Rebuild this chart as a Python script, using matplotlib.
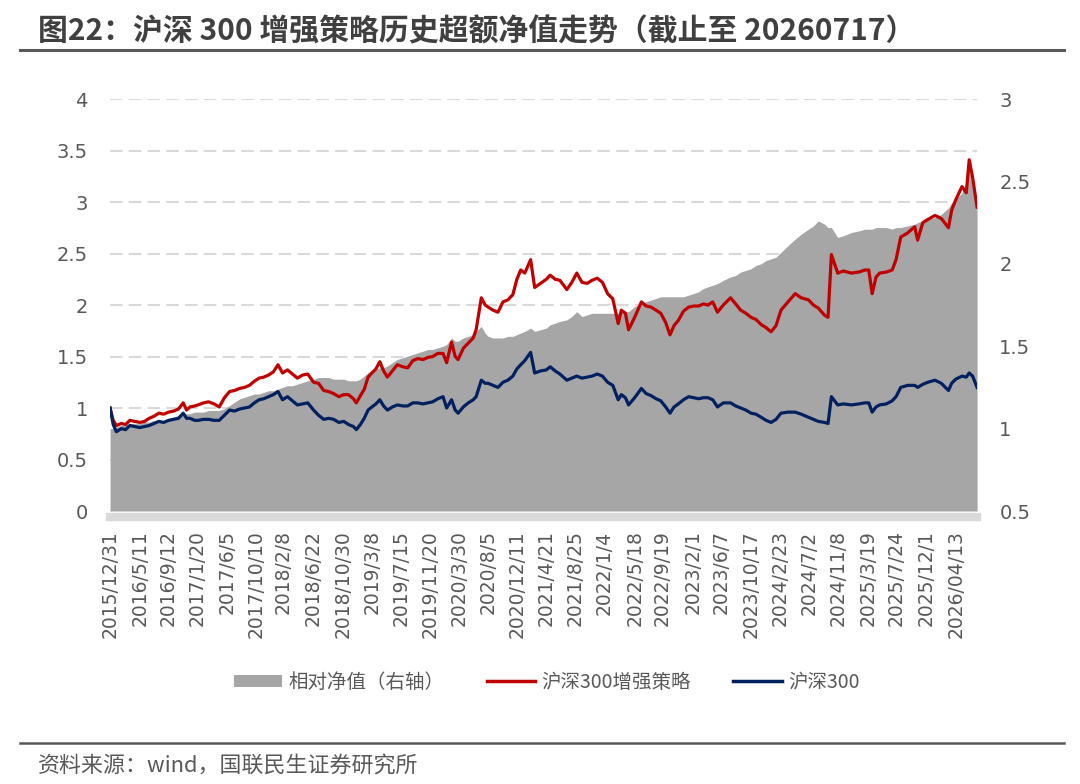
import pandas as pd
import matplotlib
matplotlib.use("Agg")
import matplotlib.pyplot as plt
from matplotlib.lines import Line2D
from matplotlib.patches import Patch

# Values
dates = [
    "2015-12-31", "2016-01-14", "2016-01-28", "2016-02-19", "2016-03-09", "2016-03-28",
    "2016-04-20", "2016-05-11", "2016-06-01", "2016-06-22", "2016-07-13", "2016-08-04",
    "2016-08-25", "2016-09-16", "2016-10-08", "2016-10-30", "2016-11-20", "2016-12-05",
    "2016-12-20", "2017-01-10", "2017-01-25", "2017-02-18", "2017-03-13", "2017-04-06",
    "2017-04-29", "2017-05-22", "2017-06-14", "2017-07-06", "2017-07-28", "2017-08-19",
    "2017-09-10", "2017-10-02", "2017-10-23", "2017-11-13", "2017-12-04", "2017-12-25",
    "2018-01-15", "2018-02-04", "2018-02-26", "2018-03-20", "2018-04-11", "2018-05-04",
    "2018-05-27", "2018-06-22", "2018-07-14", "2018-08-06", "2018-08-28", "2018-09-19",
    "2018-10-12", "2018-11-03", "2018-11-24", "2018-12-16", "2018-12-29", "2019-01-16",
    "2019-02-02", "2019-02-19", "2019-03-08", "2019-03-26", "2019-04-12", "2019-04-29",
    "2019-05-16", "2019-06-07", "2019-06-29", "2019-07-24", "2019-08-14", "2019-09-06",
    "2019-09-28", "2019-10-21", "2019-11-11", "2019-12-03", "2019-12-26", "2020-01-18",
    "2020-02-03", "2020-02-25", "2020-03-12", "2020-03-25", "2020-04-17", "2020-05-09",
    "2020-05-31", "2020-06-13", "2020-07-06", "2020-07-23", "2020-08-05", "2020-08-27",
    "2020-09-18", "2020-10-10", "2020-11-01", "2020-11-23", "2020-12-11", "2020-12-28",
    "2021-01-15", "2021-02-10", "2021-02-28", "2021-03-26", "2021-04-21", "2021-05-08",
    "2021-05-30", "2021-06-20", "2021-07-21", "2021-08-12", "2021-09-03", "2021-09-26",
    "2021-10-19", "2021-11-10", "2021-12-03", "2021-12-26", "2022-01-18", "2022-02-10",
    "2022-03-06", "2022-03-20", "2022-04-07", "2022-04-21", "2022-05-18", "2022-06-17",
    "2022-07-08", "2022-07-30", "2022-08-21", "2022-09-11", "2022-10-03", "2022-10-22",
    "2022-11-09", "2022-11-28", "2022-12-21", "2023-01-13", "2023-02-05", "2023-02-26",
    "2023-03-19", "2023-04-09", "2023-04-30", "2023-05-21", "2023-06-16", "2023-07-18",
    "2023-08-10", "2023-09-01", "2023-09-24", "2023-10-17", "2023-11-08", "2023-12-01",
    "2023-12-23", "2024-01-14", "2024-02-05", "2024-02-27", "2024-03-29", "2024-04-30",
    "2024-05-27", "2024-06-28", "2024-07-20", "2024-08-11", "2024-09-08", "2024-09-23",
    "2024-10-08", "2024-11-05", "2024-11-30", "2025-01-05", "2025-02-07", "2025-03-06",
    "2025-03-23", "2025-04-07", "2025-04-24", "2025-05-10", "2025-06-09", "2025-07-05",
    "2025-07-22", "2025-08-12", "2025-09-12", "2025-10-13", "2025-10-26", "2025-11-18",
    "2025-12-10", "2026-01-11", "2026-02-08", "2026-03-12", "2026-03-26", "2026-04-13",
    "2026-05-11", "2026-05-30", "2026-06-12", "2026-06-27", "2026-07-17",
]

# 沪深300增强策略 (left axis)
strategy = [
    1.00, 0.88, 0.83, 0.85, 0.84, 0.88, 0.87, 0.86, 0.87, 0.90, 0.92, 0.95,
    0.94, 0.96, 0.97, 0.99, 1.05, 0.98, 1.01, 1.02, 1.03, 1.05, 1.06, 1.04,
    1.01, 1.10, 1.16, 1.17, 1.19, 1.20, 1.22, 1.26, 1.29, 1.30, 1.32, 1.35,
    1.42, 1.34, 1.37, 1.33, 1.29, 1.32, 1.33, 1.25, 1.24, 1.17, 1.16, 1.14,
    1.11, 1.13, 1.13, 1.09, 1.05, 1.12, 1.18, 1.30, 1.34, 1.38, 1.45, 1.36,
    1.30, 1.36, 1.42, 1.40, 1.39, 1.46, 1.48, 1.47, 1.49, 1.50, 1.53, 1.53,
    1.44, 1.64, 1.50, 1.47, 1.58, 1.63, 1.68, 1.76, 2.07, 2.00, 1.98, 1.95,
    1.93, 2.03, 2.05, 2.10, 2.25, 2.34, 2.31, 2.44, 2.17, 2.21, 2.25, 2.29,
    2.25, 2.24, 2.15, 2.22, 2.31, 2.22, 2.21, 2.24, 2.26, 2.22, 2.11, 2.06,
    1.82, 1.95, 1.92, 1.76, 1.88, 2.03, 1.99, 1.98, 1.95, 1.92, 1.83, 1.71,
    1.80, 1.85, 1.94, 1.98, 1.99, 1.99, 2.01, 2.00, 2.03, 1.93, 2.00, 2.07,
    2.01, 1.95, 1.92, 1.88, 1.86, 1.81, 1.78, 1.74, 1.80, 1.95, 2.03, 2.11,
    2.07, 2.05, 2.00, 1.97, 1.90, 1.88, 2.49, 2.31, 2.33, 2.31, 2.32, 2.34,
    2.34, 2.11, 2.27, 2.31, 2.32, 2.34, 2.44, 2.66, 2.70, 2.76, 2.63, 2.80,
    2.83, 2.87, 2.84, 2.75, 2.92, 3.02, 3.15, 3.09, 3.41, 3.24, 2.95,
]

# 沪深300 (left axis)
csi300 = [
    1.00, 0.84, 0.77, 0.80, 0.79, 0.83, 0.82, 0.81, 0.82, 0.83, 0.85, 0.87,
    0.86, 0.88, 0.89, 0.90, 0.95, 0.90, 0.90, 0.88, 0.88, 0.89, 0.89, 0.88,
    0.88, 0.93, 0.98, 0.97, 0.99, 1.00, 1.01, 1.05, 1.08, 1.09, 1.11, 1.13,
    1.16, 1.08, 1.11, 1.07, 1.03, 1.04, 1.05, 0.98, 0.93, 0.89, 0.90, 0.89,
    0.86, 0.87, 0.84, 0.82, 0.79, 0.84, 0.90, 0.98, 1.01, 1.04, 1.08, 1.02,
    0.98, 1.01, 1.03, 1.02, 1.02, 1.05, 1.05, 1.04, 1.05, 1.06, 1.09, 1.11,
    1.00, 1.08, 0.98, 0.95, 1.01, 1.05, 1.08, 1.11, 1.27, 1.24, 1.24, 1.22,
    1.20, 1.25, 1.27, 1.31, 1.38, 1.42, 1.46, 1.54, 1.34, 1.36, 1.37, 1.40,
    1.36, 1.33, 1.27, 1.29, 1.31, 1.29, 1.30, 1.31, 1.33, 1.31, 1.25, 1.22,
    1.08, 1.13, 1.10, 1.03, 1.10, 1.19, 1.14, 1.12, 1.09, 1.07, 1.01, 0.95,
    1.01, 1.04, 1.08, 1.11, 1.10, 1.09, 1.10, 1.10, 1.08, 1.01, 1.05, 1.05,
    1.02, 1.00, 0.98, 0.95, 0.94, 0.91, 0.88, 0.86, 0.89, 0.95, 0.96, 0.96,
    0.94, 0.91, 0.89, 0.87, 0.86, 0.85, 1.11, 1.03, 1.04, 1.03, 1.04, 1.05,
    1.05, 0.96, 1.01, 1.03, 1.04, 1.07, 1.11, 1.20, 1.22, 1.22, 1.20, 1.23,
    1.25, 1.27, 1.24, 1.17, 1.24, 1.28, 1.31, 1.30, 1.34, 1.31, 1.20,
]

# 相对净值 (right axis)
relative = [
    1.00, 1.00, 1.01, 1.02, 1.02, 1.03, 1.03, 1.03, 1.04, 1.04, 1.05, 1.05,
    1.05, 1.06, 1.07, 1.08, 1.09, 1.09, 1.09, 1.10, 1.10, 1.10, 1.11, 1.11,
    1.11, 1.12, 1.14, 1.16, 1.18, 1.19, 1.20, 1.21, 1.21, 1.22, 1.23, 1.23,
    1.24, 1.25, 1.26, 1.26, 1.27, 1.28, 1.29, 1.30, 1.31, 1.31, 1.31, 1.30,
    1.30, 1.30, 1.29, 1.29, 1.29, 1.30, 1.32, 1.34, 1.35, 1.36, 1.37, 1.37,
    1.38, 1.40, 1.42, 1.43, 1.44, 1.45, 1.46, 1.47, 1.48, 1.48, 1.49, 1.50,
    1.51, 1.55, 1.53, 1.53, 1.55, 1.56, 1.57, 1.59, 1.62, 1.58, 1.56, 1.55,
    1.55, 1.55, 1.56, 1.56, 1.57, 1.58, 1.59, 1.61, 1.59, 1.60, 1.61, 1.63,
    1.64, 1.65, 1.66, 1.68, 1.71, 1.68, 1.69, 1.70, 1.70, 1.70, 1.70, 1.70,
    1.70, 1.71, 1.71, 1.71, 1.74, 1.76, 1.77, 1.78, 1.79, 1.80, 1.80, 1.80,
    1.80, 1.80, 1.80, 1.81, 1.82, 1.83, 1.85, 1.86, 1.87, 1.88, 1.90, 1.92,
    1.93, 1.95, 1.96, 1.97, 1.99, 2.00, 2.02, 2.03, 2.04, 2.07, 2.11, 2.15,
    2.18, 2.21, 2.23, 2.26, 2.24, 2.22, 2.22, 2.16, 2.17, 2.19, 2.20, 2.21,
    2.21, 2.21, 2.22, 2.22, 2.22, 2.21, 2.22, 2.22, 2.23, 2.24, 2.25, 2.26,
    2.27, 2.28, 2.30, 2.34, 2.37, 2.39, 2.43, 2.49, 2.57, 2.46, 2.38,
]

tick_labels = [
    "2015/12/31", "2016/5/11", "2016/9/12", "2017/1/20", "2017/6/5", "2017/10/10",
    "2018/2/8", "2018/6/22", "2018/10/30", "2019/3/8", "2019/7/15", "2019/11/20",
    "2020/3/30", "2020/8/5", "2020/12/11", "2021/4/21", "2021/8/25", "2022/1/4",
    "2022/5/18", "2022/9/19", "2023/2/1", "2023/6/7", "2023/10/17", "2024/2/23",
    "2024/7/2", "2024/11/8", "2025/3/19", "2025/7/24", "2025/12/1", "2026/04/13",
]
left_ticks = [0, 0.5, 1, 1.5, 2, 2.5, 3, 3.5, 4]
left_labels = ["0", "0.5", "1", "1.5", "2", "2.5", "3", "3.5", "4"]
right_ticks = [0.5, 1, 1.5, 2, 2.5, 3]
right_labels = ["0.5", "1", "1.5", "2", "2.5", "3"]

title = "图22：沪深 300 增强策略历史超额净值走势（截止至 20260717）"
source = "资料来源：wind，国联民生证券研究所"

plt.rcParams['font.family'] = ['Noto Sans CJK SC', 'DejaVu Sans']

RED = '#C00000'
NAVY = '#002060'
AREA = '#A6A6A6'
GRID = '#D9D9D9'
TXT = '#595959'

x = pd.to_datetime(dates)
xticks = pd.to_datetime(tick_labels, format="%Y/%m/%d")

fig = plt.figure(figsize=(10.8, 7.84), dpi=100)
ax = fig.add_axes([0.1019, 0.3482, 0.8028, 0.5255])
ax_area = ax.twinx()   # right axis, grey area
ax_line = ax.twinx()   # left scale again, lines on top of the area

# right axis: relative net value area
ax_area.fill_between(x, 0.5, relative, color=AREA, linewidth=0)
ax_area.set_ylim(0.5, 3)
ax_area.set_yticks(right_ticks, labels=right_labels)
ax_area.tick_params(axis='y', length=0, pad=16, labelsize=14, labelcolor=TXT,
                    labelfontfamily='DejaVu Sans')

# lines on left scale
ax_line.plot(x, strategy, color=RED, linewidth=2.3)
ax_line.plot(x, csi300, color=NAVY, linewidth=2.3)
ax_line.set_ylim(0, 4)
ax_line.yaxis.set_visible(False)

for a in [ax_area, ax_line]:
    for s in a.spines.values():
        s.set_visible(False)

# left axis: grid + ticks (x limits and ticks set last so twins don't reset them)
ax.set_ylim(0, 4)
ax.set_yticks(left_ticks, labels=left_labels)
ax.yaxis.grid(True, color=GRID, linestyle=(0, (6, 3)), linewidth=1.5)
ax.set_xlim(x[0], x[-1])
ax.set_xticks(xticks, labels=tick_labels)
ax.tick_params(axis='x', length=0, pad=10, labelsize=13.5, labelcolor=TXT,
               labelrotation=90, labelfontfamily='DejaVu Sans')
ax.tick_params(axis='y', length=0, pad=16, labelsize=14, labelcolor=TXT,
               labelfontfamily='DejaVu Sans')
for s in ['top', 'left', 'right']:
    ax.spines[s].set_visible(False)
ax.spines['bottom'].set_position(('outward', 4))
ax.spines['bottom'].set_color(GRID)
ax.spines['bottom'].set_linewidth(6)

# legend
handles = [
    Patch(facecolor=AREA, edgecolor='none'),
    Line2D([], [], color=RED, linewidth=2.5),
    Line2D([], [], color=NAVY, linewidth=2.5),
]
names = ["相对净值（右轴）", "沪深300增强策略", "沪深300"]
fig.legend(handles, names, loc='center', bbox_to_anchor=(0.506, 0.130), ncol=3,
           frameon=False, fontsize=14, labelcolor=TXT, handlelength=2.5,
           handleheight=0.6, handletextpad=0.3, columnspacing=2.2)

# title and source with rules
fig.text(38 / 1080, 1 - 31 / 784, title, fontsize=21.5, fontweight='bold',
         color='#404040', va='center', ha='left')
fig.add_artist(Line2D([20 / 1080, 1064 / 1080], [1 - 50 / 784, 1 - 50 / 784],
                      color='#595959', linewidth=2.2))
fig.add_artist(Line2D([20 / 1080, 1064 / 1080], [1 - 743 / 784, 1 - 743 / 784],
                      color='#595959', linewidth=1.8))
fig.text(38 / 1080, 1 - 766 / 784, source, fontsize=15.8, color=TXT,
         va='center', ha='left')

fig.savefig("out.png", dpi=100)
